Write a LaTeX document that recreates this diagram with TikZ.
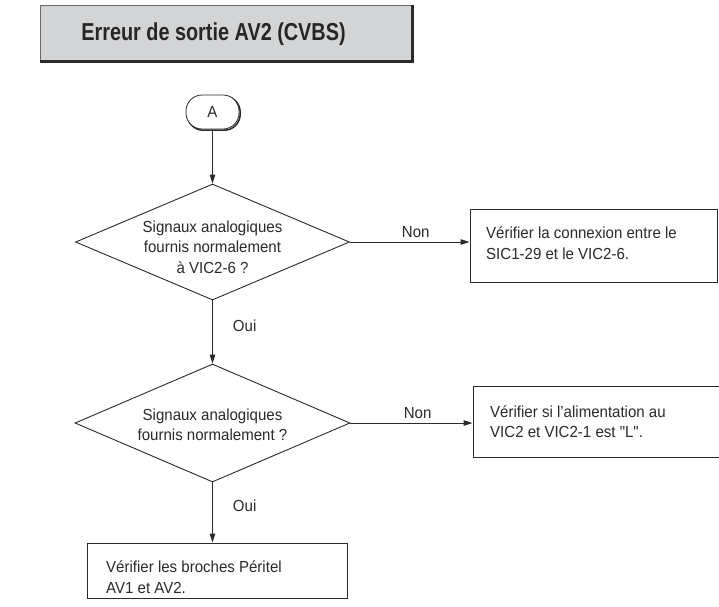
\documentclass[tikz,border=0pt]{standalone}
\usepackage{fontspec}
\setmainfont{Liberation Sans}[FakeStretch=0.94,Ligatures=TeXOff]
\newfontfamily\titlefont{Liberation Sans}[FakeStretch=0.81]
\usetikzlibrary{arrows.meta,shapes.geometric}
\definecolor{ink}{HTML}{2A2A2A}
\definecolor{titlegray}{HTML}{D3D4D6}
\begin{document}
\begin{tikzpicture}[x=1pt,y=1pt,
  line/.style={draw=ink, line width=0.9pt},
  arr/.style={line, -{Triangle[length=9pt,width=5.5pt]}},
  txt/.style={font=\fontsize{16}{20.5}\selectfont, text=ink, inner sep=0pt},
  dia/.style={diamond, draw=ink, line width=0.9pt, minimum width=274pt, minimum height=116pt, inner sep=0pt},
  actbox/.style={draw=ink, line width=0.9pt, rectangle, inner sep=0pt},
  term/.style={rectangle, rounded corners=16pt, minimum width=53pt, minimum height=34pt, inner sep=0pt},
]
\clip (0,0) rectangle (719,-606);
\fill[white] (0,0) rectangle (719,-606);

% title
\node[rectangle, fill=titlegray, draw=ink!70, line width=0.8pt, minimum width=372pt, minimum height=56pt, inner sep=0pt] (title) at (226,-33) {};
\draw[ink, line width=2.4pt] (title.north east) -- (title.south east) -- (title.south west);
\node[font=\titlefont\bfseries\fontsize{24.5}{28}\selectfont, text=black!85, inner sep=0pt] (titletext) at (213.5,-34) {Erreur de sortie AV2 (CVBS)};

% terminal A
\node[term, draw=ink, line width=1.5pt] (ashadow) at (213.7,-113.2) {};
\node[term, draw=ink, fill=white, line width=0.8pt] (a) at (212.5,-112) {};
\node[txt] (atext) at (a) {A};

% decisions
\node[dia] (d1) at (212.5,-242) {};
\node[txt, align=center] (d1t) at (212.5,-247) {Signaux analogiques\\fournis normalement\\à VIC2-6 ?};
\node[dia, minimum height=118pt, minimum width=275pt] (d2) at (212.5,-423) {};
\node[txt, align=center] (d2t) at (212.5,-425) {Signaux analogiques\\fournis normalement ?};

% action boxes
\node[actbox, minimum width=247pt, minimum height=73pt] (b1) at (593.5,-245.5) {};
\node[txt, align=left, anchor=west] (b1t) at (486,-243) {Vérifier la connexion entre le\\SIC1-29 et le VIC2-6.};
\node[actbox, minimum width=247.5pt, minimum height=71pt] (b2) at (596.75,-421.5) {};
\node[txt, align=left, anchor=west] (b2t) at (490,-421.5) {Vérifier si l’alimentation au\\VIC2 et VIC2-1 est "L".};
\node[actbox, minimum width=260pt, minimum height=55pt] (b3) at (217,-570.5) {};
\node[txt, align=left, anchor=west] (b3t) at (106,-577) {Vérifier les broches Péritel\\AV1 et AV2.};

% connectors
\draw[arr] (a.south) -- (d1.north);
\draw[arr] (d1.south) -- node[txt, pos=0.4, right=20pt] (oui1) {Oui} (d2.north);
\draw[arr] (d2.south) -- node[txt, pos=0.38, right=20pt] (oui2) {Oui} (d2.south |- b3.north);
\draw[arr] (d1.east) -- node[txt, pos=0.55, above=4pt] (non1) {Non} (d1.east -| b1.west);
\draw[arr] (d2.east) -- node[txt, pos=0.55, above=4pt] (non2) {Non} (d2.east -| b2.west);
\end{tikzpicture}
\end{document}
